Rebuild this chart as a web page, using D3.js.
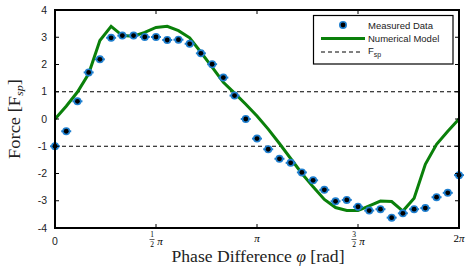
<!DOCTYPE html>
<html>
<head>
<meta charset="utf-8">
<script src="https://cdn.jsdelivr.net/npm/d3@7"></script>
<style>
  body { margin: 0; background: #fff; }
  svg { display: block; }
</style>
</head>
<body>
<div id="chart"></div>
<script>
// phase in degrees, step 10
const phaseDeg = d3.range(0, 361, 10);
const measured = [-1.00, -0.45, 0.65, 1.71, 2.19, 2.98, 3.06, 3.06, 3.01, 3.01,
  2.90, 2.91, 2.76, 2.41, 2.01, 1.52, 0.86, 0.00, -0.72, -1.11,
  -1.46, -1.61, -1.96, -2.25, -2.60, -3.02, -2.97, -3.22, -3.36, -3.31,
  -3.62, -3.46, -3.31, -3.27, -2.87, -2.71, -2.06];
const model = [0.00, 0.47, 0.99, 1.66, 2.88, 3.40, 3.06, 3.04, 3.18, 3.36,
  3.40, 3.24, 2.98, 2.45, 1.90, 1.35, 0.95, 0.54, 0.11, -0.37,
  -0.90, -1.45, -2.00, -2.49, -2.95, -3.25, -3.36, -3.36, -3.19, -3.01,
  -3.03, -3.38, -2.91, -1.66, -0.93, -0.45, 0.00];
const yTicks = [-4, -3, -2, -1, 0, 1, 2, 3, 4];
const spLevels = [1, -1];

const W = 469, H = 275;
const margin = { left: 55, right: 10, top: 10, bottom: 47 };

const svg = d3.select("#chart").append("svg")
  .attr("width", W).attr("height", H);

const x = d3.scaleLinear().domain([0, 2 * Math.PI]).range([margin.left, W - margin.right]);
const y = d3.scaleLinear().domain([-4, 4]).range([H - margin.bottom, margin.top]);
const rad = d => d * Math.PI / 180;

const blue = "#1f7fcf", green = "#0a800a";
const sans = "Liberation Sans, Arial, sans-serif";
const serif = "Liberation Serif, serif";

// dashed F_sp lines
svg.selectAll(".sp").data(spLevels).join("line")
  .attr("x1", x(0)).attr("x2", x(2 * Math.PI))
  .attr("y1", d => y(d)).attr("y2", d => y(d))
  .attr("stroke", "#000").attr("stroke-width", 1)
  .attr("stroke-dasharray", "4,3");

// model line
const line = d3.line().x((d, i) => x(rad(phaseDeg[i]))).y(d => y(d));
svg.append("path").datum(model)
  .attr("d", line).attr("fill", "none")
  .attr("stroke", green).attr("stroke-width", 3)
  .attr("stroke-linejoin", "miter");

// measured points
const pts = svg.append("g").selectAll("g").data(measured).join("g")
  .attr("transform", (d, i) => `translate(${x(rad(phaseDeg[i]))},${y(d)})`);
pts.append("line").attr("x1", -5).attr("x2", 5)
  .attr("stroke", blue).attr("stroke-width", 2);
pts.append("circle").attr("r", 4).attr("fill", blue);
pts.append("circle").attr("r", 2.4).attr("fill", "#000");

// frame
svg.append("rect")
  .attr("x", x(0)).attr("y", y(4))
  .attr("width", x(2 * Math.PI) - x(0)).attr("height", y(-4) - y(4))
  .attr("fill", "none").attr("stroke", "#000").attr("stroke-width", 2);

// ticks (inward)
const xTickVals = [0.5, 1, 1.5].map(k => k * Math.PI);
xTickVals.forEach(v => {
  svg.append("line").attr("x1", x(v)).attr("x2", x(v))
    .attr("y1", y(-4)).attr("y2", y(-4) - 4).attr("stroke", "#000");
  svg.append("line").attr("x1", x(v)).attr("x2", x(v))
    .attr("y1", y(4)).attr("y2", y(4) + 4).attr("stroke", "#000");
});
yTicks.slice(1, -1).forEach(v => {
  svg.append("line").attr("x1", x(0)).attr("x2", x(0) + 4)
    .attr("y1", y(v)).attr("y2", y(v)).attr("stroke", "#000");
  svg.append("line").attr("x1", x(2 * Math.PI)).attr("x2", x(2 * Math.PI) - 4)
    .attr("y1", y(v)).attr("y2", y(v)).attr("stroke", "#000");
});

// y tick labels
svg.selectAll(".ylab").data(yTicks).join("text")
  .attr("x", x(0) - 8).attr("y", d => y(d) + 3.5)
  .attr("text-anchor", "end")
  .attr("font-family", sans).attr("font-size", 10.5).attr("fill", "#222")
  .text(d => d < 0 ? "-" + Math.abs(d) : d);

// x tick labels
const tickY = y(-4) + 17;
svg.append("text").attr("x", x(0)).attr("y", tickY)
  .attr("text-anchor", "middle").attr("font-family", sans).attr("font-size", 10.5)
  .attr("fill", "#222").text("0");
const fracLabel = (v, num) => {
  const g = svg.append("g").attr("transform", `translate(${x(v)},${tickY})`);
  g.append("text").attr("x", -4).attr("y", -8).attr("text-anchor", "middle")
    .attr("font-family", serif).attr("font-size", 7.5).text(num);
  g.append("line").attr("x1", -6.5).attr("x2", -1.5).attr("y1", -5.5).attr("y2", -5.5)
    .attr("stroke", "#222").attr("stroke-width", 0.7);
  g.append("text").attr("x", -4).attr("y", 1.5).attr("text-anchor", "middle")
    .attr("font-family", serif).attr("font-size", 7.5).text("2");
  g.append("text").attr("x", 4).attr("y", 0).attr("text-anchor", "middle")
    .attr("font-family", serif).attr("font-style", "italic").attr("font-size", 11).text("π");
};
fracLabel(0.5 * Math.PI, "1");
fracLabel(1.5 * Math.PI, "3");
svg.append("text").attr("x", x(Math.PI)).attr("y", tickY - 3)
  .attr("text-anchor", "middle").attr("font-family", serif).attr("font-style", "italic")
  .attr("font-size", 11).text("π");
svg.append("text").attr("x", x(2 * Math.PI)).attr("y", tickY - 3)
  .attr("text-anchor", "middle").attr("font-family", serif).attr("font-size", 11)
  .html('2<tspan font-style="italic">π</tspan>');

// axis titles
svg.append("text").attr("x", 258).attr("y", 262)
  .attr("text-anchor", "middle").attr("font-family", serif).attr("font-size", 16)
  .attr("fill", "#222")
  .attr("textLength", 173).attr("lengthAdjust", "spacingAndGlyphs")
  .html('Phase Difference <tspan font-style="italic">φ</tspan> [rad]');
svg.append("text")
  .attr("transform", `translate(20,${y(0)}) rotate(-90)`)
  .attr("text-anchor", "middle").attr("font-family", serif).attr("font-size", 16)
  .attr("fill", "#222")
  .attr("textLength", 80).attr("lengthAdjust", "spacingAndGlyphs")
  .html('Force [F<tspan font-size="10.5" font-style="italic" dy="3">sp</tspan><tspan dy="-3">]</tspan>');

// legend
const lg = svg.append("g");
lg.append("rect").attr("x", 313.5).attr("y", 15.5).attr("width", 139.5).attr("height", 48.5)
  .attr("fill", "#fff").attr("stroke", "#000").attr("stroke-width", 1.2);
const rows = [25, 38.5, 52];
const lm = lg.append("g").attr("transform", `translate(343,${rows[0]})`);
lm.append("circle").attr("r", 4).attr("fill", blue);
lm.append("circle").attr("r", 2.4).attr("fill", "#000");
lg.append("line").attr("x1", 321).attr("x2", 365).attr("y1", rows[1]).attr("y2", rows[1])
  .attr("stroke", green).attr("stroke-width", 3);
lg.append("line").attr("x1", 321).attr("x2", 363).attr("y1", rows[2]).attr("y2", rows[2])
  .attr("stroke", "#000").attr("stroke-dasharray", "4,3");
lg.selectAll(".lt").data(["Measured Data", "Numerical Model"]).join("text")
  .attr("x", 368).attr("y", (d, i) => rows[i] + 3.5)
  .attr("font-family", sans).attr("font-size", 9.5).attr("fill", "#222")
  .text(d => d);
lg.append("text").attr("x", 368).attr("y", rows[2] + 2)
  .attr("font-family", sans).attr("font-size", 9.5).attr("fill", "#222")
  .html('F<tspan font-size="7" dy="3">sp</tspan>');
</script>
</body>
</html>
